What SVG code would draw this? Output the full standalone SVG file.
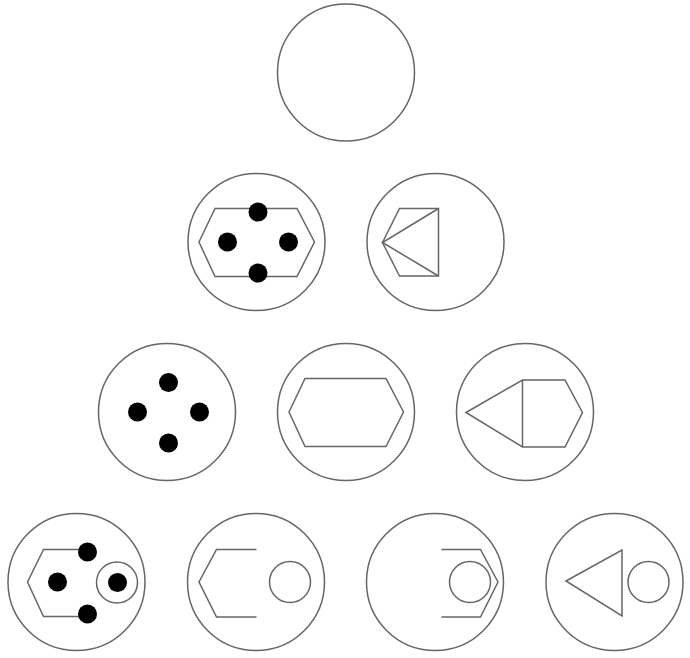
<svg xmlns="http://www.w3.org/2000/svg" width="690" height="658" viewBox="0 0 690 658">
<style>
.o{fill:none;stroke:#666;stroke-width:1.5}
.s{fill:none;stroke:#666;stroke-width:1.5;stroke-linejoin:miter}
.d{fill:#000}
</style>
<rect width="690" height="658" fill="#fff"/>
<g id="n1"><circle class="o" cx="346" cy="72.5" r="68.5"/></g>
<g id="n2">
<circle class="o" cx="256.5" cy="242" r="68.5"/>
<polygon class="s" points="199,242 215,208.5 297,208.5 314.5,242 297,276.5 215,276.5"/>
<circle class="d" cx="258" cy="212" r="9.5"/>
<circle class="d" cx="227.5" cy="242" r="9.5"/>
<circle class="d" cx="288.5" cy="242" r="9.5"/>
<circle class="d" cx="258" cy="273" r="9.5"/>
</g>
<g id="n3">
<circle class="o" cx="435.5" cy="242" r="68.5"/>
<polygon class="s" points="382.5,242.5 399.5,208.5 438.5,208.5 438.5,276 399.5,276"/>
<polyline class="s" points="438.5,208.5 382.5,242.5 438.5,276"/>
</g>
<g id="n4">
<circle class="o" cx="167" cy="412" r="68.5"/>
<circle class="d" cx="168.5" cy="382.5" r="9.5"/>
<circle class="d" cx="137.5" cy="412" r="9.5"/>
<circle class="d" cx="199.5" cy="412" r="9.5"/>
<circle class="d" cx="168.5" cy="443" r="9.5"/>
</g>
<g id="n5">
<circle class="o" cx="346" cy="412" r="68.5"/>
<polygon class="s" points="289,412 305,378.5 386,378.5 403.5,412 386,446.5 305,446.5"/>
</g>
<g id="n6">
<circle class="o" cx="525" cy="412" r="68.5"/>
<polygon class="s" points="466,412.5 522.5,380 565,380 582.5,412.5 565,447 522.5,447"/>
<line class="s" x1="522.5" y1="380" x2="522.5" y2="447"/>
</g>
<g id="n7">
<circle class="o" cx="76.5" cy="582" r="68.5"/>
<polyline class="s" points="82,549.5 43.5,549.5 27.5,582 43.5,616.5 82,616.5"/>
<circle class="o" cx="117" cy="582.5" r="20.5"/>
<circle class="d" cx="87.5" cy="552" r="9.5"/>
<circle class="d" cx="57.5" cy="582" r="9.5"/>
<circle class="d" cx="87.5" cy="614" r="9.5"/>
<circle class="d" cx="117.5" cy="582.5" r="9.5"/>
</g>
<g id="n8">
<circle class="o" cx="256" cy="582" r="68.5"/>
<polyline class="s" points="256.5,549.5 216.5,549.5 199,582 216.5,617 256.5,617"/>
<circle class="o" cx="290" cy="582" r="20.5"/>
</g>
<g id="n9">
<circle class="o" cx="435" cy="582" r="68.5"/>
<polyline class="s" points="441.5,549.5 480.5,549.5 498,582 480.5,617 441.5,617"/>
<circle class="o" cx="470" cy="582" r="20.5"/>
</g>
<g id="n10">
<circle class="o" cx="614.5" cy="582" r="68.5"/>
<polygon class="s" points="566,581 622,550 622,616"/>
<circle class="o" cx="648.5" cy="582" r="20.5"/>
</g>
<g id="connectors"></g>
</svg>
